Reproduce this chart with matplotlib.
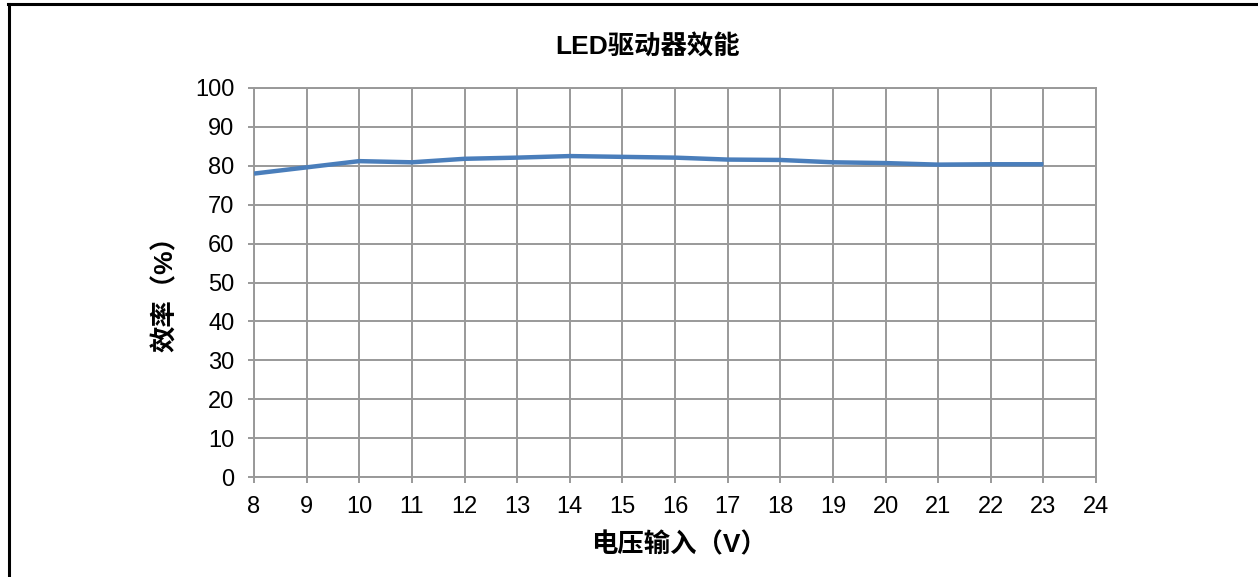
import matplotlib
matplotlib.use("Agg")

import matplotlib.pyplot as plt

plt.rcParams["font.family"] = ["Liberation Sans", "Noto Sans CJK SC", "DejaVu Sans"]

# data
voltage = [8, 9, 10, 11, 12, 13, 14, 15, 16, 17, 18, 19, 20, 21, 22, 23]
efficiency = [78.0, 79.6, 81.2, 80.9, 81.8, 82.1, 82.5, 82.3, 82.1, 81.6,
              81.5, 80.9, 80.7, 80.3, 80.4, 80.4]

title = "LED驱动器效能"
xlabel = "电压输入（V）"
ylabel = "效率（%）"

W, H = 1258, 577
fig = plt.figure(figsize=(W / 100, H / 100), dpi=100)
ax = fig.add_axes([254 / W, 1 - 477 / H, (1096 - 254) / W, (477 - 88) / H])

grid_c = "#999999"
ax.plot(voltage, efficiency, color="#4A7EBB", linewidth=3.2,
        solid_capstyle="butt", solid_joinstyle="round", zorder=3)

ax.set_xlim(8, 24)
ax.set_ylim(0, 100)
ax.set_xticks(range(8, 25))
ax.set_yticks(range(0, 101, 10))
ax.grid(True, color=grid_c, linewidth=1.4)
ax.set_axisbelow(True)
for s in ax.spines.values():
    s.set_color(grid_c)
    s.set_linewidth(1.4)
ax.tick_params(axis="both", colors=grid_c, labelcolor="black",
               labelsize=17, length=4.5, width=1.4, direction="out")
ax.tick_params(axis="x", pad=9)
ax.tick_params(axis="y", pad=9.5)

fig.text(648 / W, 1 - 47 / H, title, ha="center", va="center",
         fontsize=19, fontweight="bold")
fig.text(679 / W, 1 - 545 / H, xlabel, ha="center", va="center",
         fontsize=19, fontweight="bold")
fig.text(165 / W, 1 - 288 / H, ylabel, ha="center", va="center",
         rotation=90, fontsize=19, fontweight="bold")

# frame lines left and top like the cropped source
fig.add_artist(plt.Line2D([9 / W, 9 / W], [0, 1 - 4 / H], color="black", linewidth=2.2,
                          transform=fig.transFigure))
fig.add_artist(plt.Line2D([8 / W, 1], [1 - 4 / H, 1 - 4 / H], color="black", linewidth=2.2,
                          transform=fig.transFigure))

fig.savefig("out.png", dpi=100)
plt.close(fig)
